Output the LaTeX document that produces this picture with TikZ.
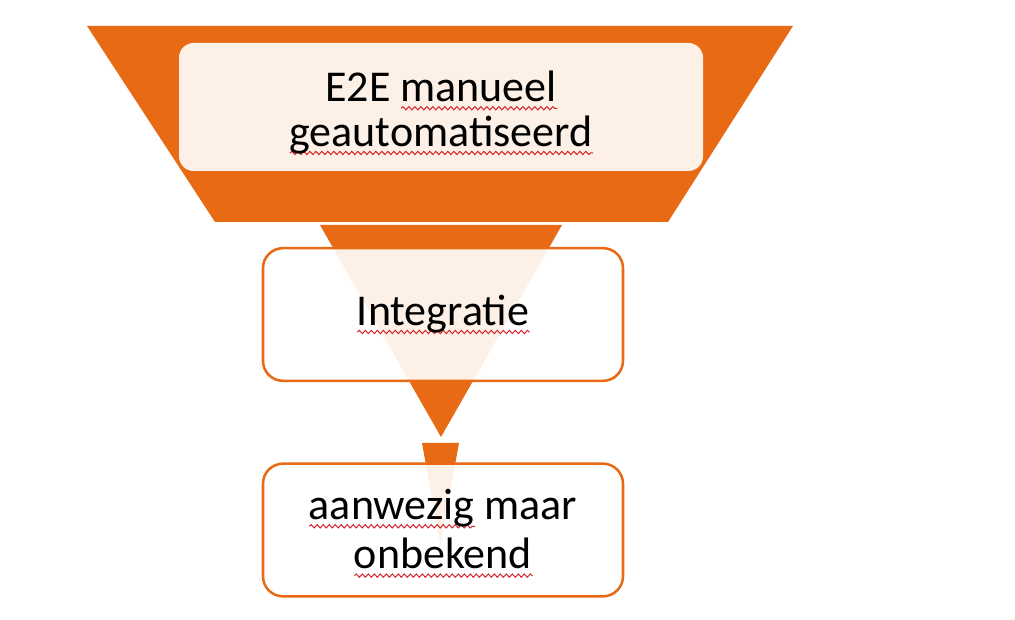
\documentclass[tikz,border=0pt]{standalone}
\usepackage{fontspec}
\setmainfont{Carlito}
\usetikzlibrary{decorations.pathmorphing}
\definecolor{funnel}{RGB}{233,106,20}
\definecolor{squig}{RGB}{210,35,45}
% red wavy underline of the spell checker
\newsavebox\typobox
\newcommand\typo[1]{\sbox\typobox{#1}\rlap{\tikz[baseline=0pt, x=1pt, y=1pt, sharp corners]
	\draw[squig, line width=0.75pt, decorate, decoration={snake, segment length=4.5pt, amplitude=1.2pt}]
		(0,-5)--(\the\wd\typobox,-5);}\usebox\typobox}

\begin{document}
\begin{tikzpicture}[x=0.75pt, y=-0.75pt, font=\fontsize{33}{33.5}\selectfont,
	lid/.style={fill=white, fill opacity=0.9, text opacity=1, rounded corners=11pt, inner sep=0pt,
		minimum width=393pt, minimum height=96pt, align=center},
	stage/.style={draw=funnel, line width=1.9pt, fill=white, fill opacity=0.9, text opacity=1,
		rounded corners=15pt, inner sep=0pt, minimum width=270pt, minimum height=99.5pt, align=center}]
	\useasboundingbox (0,0) rectangle (1015,620);
	% funnel parts
	\fill[funnel] (87,26)--(793,26)--(668,222)--(215,222)--cycle;
	\node[lid] (e2e) at (441,107) {\rule{0pt}{32pt}E2E \typo{manueel}\\\typo{geautomatiseerd}};
	\fill[funnel] (320,225)--(562,225)--(441,437)--cycle;
	\node[stage] (integ) at (443,314.5) {\typo{Integratie}};
	\fill[funnel] (422,443)--(459,443)--(440.5,545)--cycle;
	\node[stage, font=\fontsize{33}{37}\selectfont] (onbek) at (443,530)
		{\rule{0pt}{28pt}\typo{aanwezig} maar\\\typo{onbekend}};
\end{tikzpicture}
\end{document}
